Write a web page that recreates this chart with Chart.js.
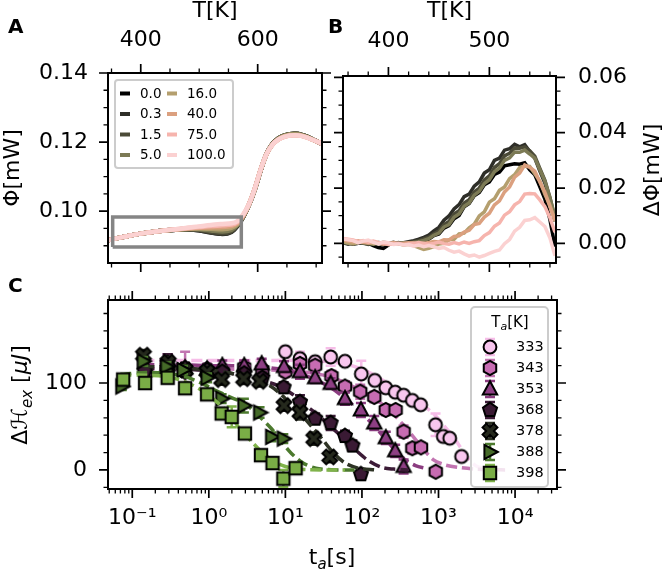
<!DOCTYPE html>
<html><head><meta charset="utf-8">
<script src="https://cdn.jsdelivr.net/npm/chart.js@4.4.1/dist/chart.umd.min.js"></script>
<style>
html,body{margin:0;padding:0;background:#fff;}
#wrap{position:relative;width:663px;height:572px;overflow:hidden;background:#fff;}
#wrap canvas{position:absolute;left:0;top:0;}
</style></head><body>
<div id="wrap">
<canvas id="cA" width="663" height="572"></canvas>
<canvas id="cB" width="663" height="572"></canvas>
<canvas id="cC" width="663" height="572"></canvas>
</div>
<script>
// ---------------- Panel A data ----------------
const runLabels = ['0.0','0.3','1.5','5.0','16.0','40.0','75.0','100.0'];
const tempA = [344,360,380,400,420,440,460,480,500,520,540,555,565,575,585,595,605,615,625,635,645,655,665,675,685,695,705,710];
const phiA_0_0  = [0.0916,0.0922,0.0929,0.0935,0.0940,0.0944,0.0946,0.0947,0.0945,0.0939,0.0935,0.0941,0.0957,0.0983,0.1018,0.1063,0.1118,0.1165,0.1194,0.1210,0.1219,0.1223,0.1224,0.1221,0.1215,0.1207,0.1199,0.1195];
const phiA_0_3  = [0.0916,0.0922,0.0929,0.0935,0.0940,0.0944,0.0946,0.0947,0.0945,0.0938,0.0934,0.0940,0.0957,0.0983,0.1018,0.1063,0.1118,0.1165,0.1194,0.1210,0.1219,0.1223,0.1224,0.1221,0.1215,0.1207,0.1199,0.1195];
const phiA_1_5  = [0.0916,0.0922,0.0929,0.0935,0.0940,0.0944,0.0946,0.0947,0.0946,0.0940,0.0936,0.0942,0.0958,0.0983,0.1018,0.1063,0.1118,0.1165,0.1194,0.1210,0.1219,0.1223,0.1224,0.1221,0.1215,0.1207,0.1199,0.1195];
const phiA_5_0  = [0.0916,0.0922,0.0929,0.0935,0.0940,0.0944,0.0947,0.0948,0.0948,0.0944,0.0941,0.0946,0.0960,0.0984,0.1018,0.1063,0.1118,0.1165,0.1194,0.1210,0.1219,0.1223,0.1224,0.1221,0.1215,0.1207,0.1199,0.1195];
const phiA_16_0 = [0.0916,0.0922,0.0929,0.0935,0.0940,0.0944,0.0947,0.0949,0.0950,0.0949,0.0948,0.0952,0.0962,0.0985,0.1019,0.1064,0.1119,0.1165,0.1193,0.1208,0.1217,0.1221,0.1222,0.1219,0.1214,0.1206,0.1199,0.1195];
const phiA_40_0 = [0.0916,0.0922,0.0929,0.0935,0.0940,0.0944,0.0947,0.0950,0.0952,0.0953,0.0954,0.0957,0.0965,0.0986,0.1020,0.1065,0.1120,0.1165,0.1192,0.1207,0.1215,0.1219,0.1220,0.1218,0.1213,0.1206,0.1199,0.1195];
const phiA_75_0 = [0.0916,0.0922,0.0929,0.0935,0.0940,0.0944,0.0948,0.0951,0.0954,0.0957,0.0959,0.0961,0.0968,0.0988,0.1020,0.1065,0.1120,0.1165,0.1192,0.1207,0.1215,0.1219,0.1220,0.1218,0.1213,0.1206,0.1199,0.1195];
const phiA_100_0= [0.0916,0.0922,0.0929,0.0935,0.0940,0.0944,0.0948,0.0952,0.0956,0.0960,0.0963,0.0965,0.0971,0.0990,0.1020,0.1065,0.1120,0.1165,0.1192,0.1207,0.1215,0.1219,0.1220,0.1218,0.1213,0.1206,0.1199,0.1195];
const zoomBoxTemp = [352, 572];
const zoomBoxPhi = [0.0896, 0.0983];
const tempTicksA = [400, 600];
const tempMinorA = [350, 450, 500, 550, 650, 700];
const phiTicks = [0.10, 0.12, 0.14];
const phiMinor = [0.09, 0.095, 0.105, 0.11, 0.115, 0.125, 0.13, 0.135];

// ---------------- Panel B data ----------------
const tempB = [355,360,365,370,375,380,385,390,395,400,405,410,415,420,425,430,435,440,445,450,455,460,465,470,475,480,485,490,495,500,505,510,515,520,525,530,535,540,545,550,555,560,565];
const dPhi_0_0 = [0.0005,0.0002,-0.0003,0.0000,0.0004,0.0001,-0.0008,-0.0015,-0.0018,-0.0006,0.0002,0.0000,-0.0004,0.0001,0.0002,0.0004,0.0008,0.0015,
 0.0028,0.0034,0.0055,0.0064,0.0089,0.0101,0.0132,0.0144,0.0172,0.0184,0.0212,0.0222,
 0.0249,0.0258,0.0280,0.0284,0.0288,0.0286,0.0291,0.0266,0.0248,0.0204,0.0160,0.0086,-0.0012];
const dPhi_0_3 = [0.0002,-0.0003,0.0001,0.0004,0.0000,-0.0002,0.0003,0.0001,-0.0005,0.0000,0.0004,-0.0001,0.0002,0.0006,0.0010,0.0015,0.0022,0.0030,
 0.0045,0.0058,0.0084,0.0099,0.0124,0.0140,0.0169,0.0178,0.0207,0.0222,0.0254,0.0266,
 0.0300,0.0308,0.0337,0.0342,0.0358,0.0349,0.0357,0.0332,0.0308,0.0261,0.0218,0.0156,0.0080];
const dPhi_1_5 = [0.0008,0.0003,0.0000,0.0005,0.0002,-0.0004,0.0000,0.0003,0.0001,-0.0003,0.0000,0.0003,-0.0002,0.0002,0.0006,0.0010,0.0016,0.0022,
 0.0035,0.0045,0.0068,0.0079,0.0106,0.0118,0.0146,0.0158,0.0186,0.0200,0.0229,0.0244,
 0.0274,0.0288,0.0316,0.0326,0.0345,0.0344,0.0349,0.0335,0.0315,0.0271,0.0228,0.0166,0.0090];
const dPhi_5_0 = [0.0004,0.0000,0.0003,0.0006,0.0001,0.0002,-0.0003,0.0000,0.0004,0.0001,-0.0002,0.0000,0.0002,-0.0001,0.0003,0.0006,0.0011,0.0017,
 0.0029,0.0037,0.0059,0.0068,0.0094,0.0106,0.0134,0.0146,0.0174,0.0188,0.0216,0.0230,
 0.0259,0.0272,0.0300,0.0309,0.0330,0.0329,0.0337,0.0323,0.0308,0.0266,0.0225,0.0164,0.0095];
const dPhi_16_0 = [0.0006,0.0002,-0.0002,0.0003,0.0006,0.0002,-0.0001,0.0002,0.0000,-0.0004,0.0001,-0.0002,-0.0006,-0.0003,-0.0008,-0.0015,-0.0022,-0.0018,
 -0.0012,-0.0002,0.0000,0.0013,0.0015,0.0034,0.0037,0.0056,0.0069,0.0099,0.0114,0.0149,
 0.0161,0.0192,0.0204,0.0234,0.0248,0.0274,0.0279,0.0278,0.0252,0.0225,0.0177,0.0138,0.0080];
const dPhi_40_0 = [0.0012,0.0008,0.0005,0.0009,0.0004,0.0001,0.0004,0.0000,-0.0003,0.0000,0.0003,-0.0001,0.0000,0.0002,0.0001,-0.0002,0.0000,0.0003,
 0.0007,0.0005,0.0013,0.0012,0.0025,0.0027,0.0041,0.0047,0.0068,0.0072,0.0095,0.0109,
 0.0139,0.0154,0.0186,0.0204,0.0239,0.0254,0.0283,0.0275,0.0261,0.0222,0.0185,0.0133,0.0082];
const dPhi_75_0 = [0.0018,0.0015,0.0012,0.0006,0.0010,0.0004,0.0008,0.0003,0.0000,-0.0004,-0.0002,0.0000,-0.0005,-0.0002,0.0000,0.0003,0.0000,-0.0003,
 0.0000,0.0005,-0.0001,-0.0003,0.0003,-0.0002,0.0005,0.0000,0.0006,0.0010,0.0028,0.0039,
 0.0062,0.0074,0.0102,0.0114,0.0139,0.0151,0.0178,0.0180,0.0179,0.0157,0.0133,0.0092,0.0040];
const dPhi_100_0 = [0.0016,0.0013,0.0010,0.0002,0.0008,0.0012,0.0004,-0.0002,0.0005,0.0002,-0.0004,-0.0002,-0.0006,-0.0004,-0.0010,-0.0006,-0.0012,-0.0008,
 -0.0012,-0.0018,-0.0015,-0.0025,-0.0032,-0.0028,-0.0038,-0.0046,-0.0042,-0.0050,-0.0044,-0.0036,
 -0.0029,-0.0024,-0.0001,0.0014,0.0044,0.0058,0.0083,0.0085,0.0093,0.0077,0.0061,0.0019,-0.0045];
const tempTicksB = [400, 500];
const tempMinorB = [360, 380, 420, 440, 460, 480, 520, 540, 560];
const dPhiTicks = [0.00, 0.02, 0.04, 0.06];
const dPhiMinor = [-0.005, 0.005, 0.01, 0.015, 0.025, 0.03, 0.035, 0.045, 0.05, 0.055];

// ---------------- Panel C data ----------------
const annealTemps = ['333','343','353','368','378','388','398'];
const t_333 = [10,15.5,24.5,39,60,98,147,205,272,350,455,585,915,1155,1400,2000];
const dH_333 = [136,128,124.5,130,125,110.5,103,94.5,89.5,86,80,75,52,38.5,36.5,15.5];
const err_333 = [6,8,6,10,5,15,6,5,5,5,5,5,13,6,5,5];
const t_343 = [0.15,0.29,0.49,0.95,1.5,2.9,5,10,15.5,24.5,40,60,95,145,205,275,350,455,590,920];
const dH_343 = [112,116,113,116,115,118,115,113,122,120,108,96,90,84,69,69,44,25,26,-2];
const err_343 = [6,6,23,6,6,6,6,6,6,6,6,6,8,6,6,5,7,6,5,4];
const t_353 = [0.15,0.29,0.49,0.95,1.5,2.9,4.9,9.6,15.5,24.5,39,60,97,145,205,272,350];
const dH_353 = [118,121,117,116,120,120,122,119,113,106,99.5,82,69,54,37,22,4];
const err_353 = [6,12,6,6,6,6,6,6,8,6,6,7,8,8,7,7,8];
const t_368 = [0.145,0.29,0.49,0.95,1.5,2.9,5,9.5,15.5,24.5,39,60,75,97];
const dH_368 = [114,123,117,115,113,111,106,95,78,59,54,39,28,-5];
const err_368 = [6,10,6,6,6,6,6,6,8,6,8,6,6,6];
const t_378 = [0.14,0.295,0.49,0.95,1.47,2.85,4.6,9.6,15.5,23.5,38];
const dH_378 = [132,124,115,113,104,105,102,74,66,36,15];
const err_378 = [6,6,6,6,6,6,6,6,8,7,6];
const t_388 = [0.073,0.139,0.28,0.46,0.95,1.47,2.87,4.6,6.6,9.4];
const dH_388 = [96,125,119,115,106,82,74,66,38,36];
const err_388 = [4,5,5,5,5,5,8,6,5,5];
const t_398 = [0.076,0.147,0.29,0.49,0.95,1.47,1.99,2.96,4.8,6.8,9.4,13.6];
const dH_398 = [104,100,106,94,87,65,61,42,17,8,-10,2];
const err_398 = [4,5,4,5,5,6,12,5,5,5,10,6];
// fitted curves
const fitT_333 = [0.14,0.5,2,6,15,30,60,100,160,250,400,600,900,1200,1600,2000,2500,3200,4500];
const fitH_333 = [126,126,126,126,126,125,122,116,107,96,86,76,63,50,37,24,12,4,1];
const fitT_343 = [0.14,0.5,2,6,12,20,35,55,80,120,170,240,330,450,620,850,1200,1800,3000,5000,8500];
const fitH_343 = [116,116,116,115,114,112,108,102,95,87,78,67,54,40,25,12,6,3,1,0.3,0];
const fitT_353 = [0.14,0.3,0.5,1,2,4,7,10,15,22,32,45,65,90,130,180,250,350,500,700];
const fitH_353 = [121,121,121,120,120,119,117,115,111,106,99,91,80,69,55,41,26,13,5,1.5];
const fitT_368 = [0.14,0.3,0.5,1,2,3,5,8,12,18,26,40,60,85,120,180,260,400];
const fitH_368 = [117,117,116,114,111,108,103,97,88,75,64,49,35,22,11,3,1,0];
const fitT_378 = [0.14,0.3,0.5,1,2,3,4.5,6.5,9,12,16,22,30,42,60,90,150];
const fitH_378 = [119,118,117,115,111,107,102,96,86,75,64,50,36,20,8,2,0];
const fitT_388 = [0.07,0.15,0.3,0.5,0.8,1.2,2,3,4.5,6.5,9,12,17,25,40,80];
const fitH_388 = [110,112,111,107,100,92,83,76,62,48,32,19,8,2,0.3,0];
const fitT_398 = [0.07,0.15,0.3,0.5,0.8,1.2,1.8,2.5,3.5,5,7,10,14,20,35,60];
const fitH_398 = [109,109,107,101,92,80,66,48,34,20,10,4,1.2,0.3,0,0];
const timeTicks = [0.1, 1, 10, 100, 1000, 10000];
const timeTickLabels = ['10\u207B\u00B9','10\u2070','10\u00B9','10\u00B2','10\u00B3','10\u2074'];
const dHTicks = [0, 100];
const dHMinor = [-20, 20, 40, 60, 80, 120, 140, 160, 180];

// ---------------- styles ----------------
const FONT = "'DejaVu Sans', sans-serif";
Chart.defaults.font.family = FONT;
Chart.defaults.color = '#000';
const runColors = ['#000000','#2e2e28','#4b4a37','#7c7a55','#b49f6e','#dba07f','#f6b4ad','#fbd1d1'];
const markerShapes = ['circle','hexagon','triangle','pentagon','xfilled','tri_right','square'];
const markerFill = ['#f8c6ee','#c76cb2','#8e3f84','#3a1a34','#25291d','#456a28','#7aad46'];
const lineColC = ['#f6bde8','#c274b1','#8b3c80','#3c1c37','#2e3325','#4c7a2e','#80b34b'];

function makeMarker(shape, fill) {
  const c = document.createElement('canvas'); c.width = 20; c.height = 20;
  const g = c.getContext('2d'); g.translate(10, 10); g.beginPath();
  const poly = pts => { pts.forEach((p, i) => i ? g.lineTo(p[0], p[1]) : g.moveTo(p[0], p[1])); g.closePath(); };
  const reg = (n, r, rot) => { const pts = []; for (let k = 0; k < n; k++) { const a = rot + k * 2 * Math.PI / n; pts.push([r * Math.cos(a), r * Math.sin(a)]); } poly(pts); };
  switch (shape) {
    case 'circle': g.arc(0, 0, 6.4, 0, 2 * Math.PI); break;
    case 'hexagon': reg(6, 7.2, -Math.PI / 2); break;
    case 'triangle': poly([[0, -7.8], [-7.2, 5.6], [7.2, 5.6]]); break;
    case 'pentagon': reg(5, 7.4, -Math.PI / 2); break;
    case 'xfilled': { const w = 2.7, L = 7.8; const pts = [[-w,-L],[w,-L],[w,-w],[L,-w],[L,w],[w,w],[w,L],[-w,L],[-w,w],[-L,w],[-L,-w],[-w,-w]]; const cr = Math.SQRT1_2; poly(pts.map(([x, y]) => [(x - y) * cr, (x + y) * cr])); break; }
    case 'tri_right': poly([[7.8, 0], [-5.6, -7.2], [-5.6, 7.2]]); break;
    case 'square': poly([[-6.2, -6.2], [6.2, -6.2], [6.2, 6.2], [-6.2, 6.2]]); break;
  }
  g.fillStyle = fill; g.fill(); g.lineWidth = 2; g.strokeStyle = '#000'; g.lineJoin = 'miter'; g.stroke();
  return c;
}

function richText(ctx, parts, x, y, rot, align) {
  ctx.save(); ctx.translate(x, y); ctx.rotate(rot || 0);
  const fontOf = p => (p.b ? 'bold ' : '') + (p.i ? 'italic ' : '') + p.s + 'px ' + FONT;
  let total = 0; const ws = [];
  parts.forEach(p => { ctx.font = fontOf(p); const w = ctx.measureText(p.t).width; ws.push(w); total += w; });
  let cx = align === 'left' ? 0 : -total / 2;
  ctx.textBaseline = 'alphabetic'; ctx.textAlign = 'left'; ctx.fillStyle = '#000';
  parts.forEach((p, k) => { ctx.font = fontOf(p); ctx.fillText(p.t, cx, p.dy || 0); cx += ws[k]; });
  ctx.restore();
}

// spines + matplotlib-like ticks on all sides
const mplAxes = {
  id: 'mplAxes',
  afterDatasetsDraw(chart, args, o) {
    const { ctx, chartArea: a } = chart;
    ctx.save(); ctx.strokeStyle = '#000'; ctx.lineCap = 'butt';
    for (const ax of (o.axes || [])) {
      const s = chart.scales[ax.scale];
      for (const [vals, len, w] of [[ax.major, 9, 1.7], [ax.minor || [], 4.5, 1.3]]) {
        ctx.lineWidth = w; ctx.beginPath();
        for (const v of vals) {
          const p = s.getPixelForValue(v);
          if (s.isHorizontal()) {
            if (p < a.left - 1 || p > a.right + 1) continue;
            ctx.moveTo(p, a.top); ctx.lineTo(p, a.top - len);
            ctx.moveTo(p, a.bottom); ctx.lineTo(p, a.bottom + len);
          } else {
            if (p < a.top - 1 || p > a.bottom + 1) continue;
            ctx.moveTo(a.left, p); ctx.lineTo(a.left - len, p);
            ctx.moveTo(a.right, p); ctx.lineTo(a.right + len, p);
          }
        }
        ctx.stroke();
      }
    }
    ctx.lineWidth = 2;
    ctx.strokeRect(a.left, a.top, a.right - a.left, a.bottom - a.top);
    ctx.restore();
  }
};

const extraText = {
  id: 'extraText',
  afterDraw(chart, args, o) {
    const ctx = chart.ctx;
    for (const item of (o.items || [])) richText(ctx, item.parts, item.x, item.y, item.rot, item.align);
  }
};

function fixedSize(w, h) {
  return s => { if (w != null) s.width = w; if (h != null) s.height = h; };
}

// ---------------- Panel A ----------------
const phiSeriesA = [phiA_0_0, phiA_0_3, phiA_1_5, phiA_5_0, phiA_16_0, phiA_40_0, phiA_75_0, phiA_100_0];
const dsA = phiSeriesA.map((arr, i) => ({
  label: runLabels[i], data: tempA.map((T, k) => ({ x: T, y: arr[k] })),
  borderColor: runColors[i], borderWidth: 4.5, pointRadius: 0, showLine: true, order: 20 - i, tension: 0.3
}));
dsA.push({
  label: 'zoom', data: [[0,0],[1,0],[1,1],[0,1],[0,0]].map(([i, j]) => ({ x: zoomBoxTemp[i], y: zoomBoxPhi[j] })),
  borderColor: '#858585', borderWidth: 3.5, pointRadius: 0, showLine: true, order: 1, tension: 0
});
const legendA = {
  id: 'legendA',
  afterDraw(chart) {
    const ctx = chart.ctx, a = chart.chartArea;
    const x0 = a.left + 7, y0 = a.top + 7;
    ctx.save();
    ctx.beginPath(); ctx.roundRect(x0, y0, 118, 88, 3);
    ctx.fillStyle = 'rgba(255,255,255,0.8)'; ctx.fill();
    ctx.strokeStyle = '#cccccc'; ctx.lineWidth = 2; ctx.stroke();
    ctx.font = '13.5px ' + FONT; ctx.textBaseline = 'middle'; ctx.textAlign = 'left';
    for (let i = 0; i < 8; i++) {
      const ds = chart.data.datasets[i];
      const col = Math.floor(i / 4), row = i % 4;
      const hx = x0 + 5 + col * 47, hy = y0 + 13.5 + row * 20.5;
      ctx.strokeStyle = ds.borderColor; ctx.lineWidth = 4;
      ctx.beginPath(); ctx.moveTo(hx, hy); ctx.lineTo(hx + 10, hy); ctx.stroke();
      ctx.fillStyle = '#000'; ctx.fillText(ds.label, hx + 20, hy + 0.5);
    }
    ctx.restore();
  }
};
new Chart(document.getElementById('cA'), {
  type: 'scatter',
  data: { datasets: dsA },
  options: {
    responsive: false, animation: false, events: [],
    layout: { padding: { left: 0, top: 0, right: 341, bottom: 309 } },
    scales: {
      x: { type: 'linear', position: 'top', min: 344, max: 710,
        afterBuildTicks: s => { s.ticks = tempTicksA.map(v => ({ value: v })); },
        afterFit: fixedSize(null, 73),
        grid: { display: false, drawTicks: false }, border: { display: false },
        ticks: { font: { size: 22 }, padding: 20, autoSkip: false, maxRotation: 0, callback: v => String(v) },
        title: { display: true, text: 'T[K]', font: { size: 22, lineHeight: 1 }, padding: { top: 0, bottom: 0 } } },
      y: { type: 'linear', position: 'left', min: 0.085, max: 0.14,
        afterBuildTicks: s => { s.ticks = phiTicks.map(v => ({ value: v })); },
        afterFit: fixedSize(108, null),
        grid: { display: false, drawTicks: false }, border: { display: false },
        ticks: { font: { size: 22 }, padding: 20, autoSkip: false, callback: v => v.toFixed(2) },
        title: { display: true, text: 'Φ[mW]', font: { size: 22, lineHeight: 1 }, padding: { top: 2, bottom: 0 } } }
    },
    plugins: {
      legend: { display: false }, tooltip: { enabled: false },
      mplAxes: { axes: [{ scale: 'x', major: tempTicksA, minor: tempMinorA }, { scale: 'y', major: phiTicks, minor: phiMinor }] },
      extraText: { items: [{ parts: [{ t: 'A', s: 20, b: true }], x: 8, y: 33, align: 'left' }] }
    }
  },
  plugins: [mplAxes, legendA, extraText]
});

// ---------------- Panel B ----------------
const dPhiSeries = [dPhi_0_0, dPhi_0_3, dPhi_1_5, dPhi_5_0, dPhi_16_0, dPhi_40_0, dPhi_75_0, dPhi_100_0];
const dsB = dPhiSeries.map((arr, i) => ({
  label: runLabels[i], data: tempB.map((T, k) => ({ x: T, y: arr[k] })),
  borderColor: runColors[i], borderWidth: 3.5, pointRadius: 0, showLine: true, order: 20 - i, tension: 0
}));
new Chart(document.getElementById('cB'), {
  type: 'scatter',
  data: { datasets: dsB },
  options: {
    responsive: false, animation: false, events: [],
    layout: { padding: { left: 343, top: 0, right: 0, bottom: 309 } },
    scales: {
      x: { type: 'linear', position: 'top', min: 355, max: 566,
        afterBuildTicks: s => { s.ticks = tempTicksB.map(v => ({ value: v })); },
        afterFit: fixedSize(null, 76),
        grid: { display: false, drawTicks: false }, border: { display: false },
        ticks: { font: { size: 22 }, padding: 22, autoSkip: false, maxRotation: 0, callback: v => String(v) },
        title: { display: true, text: 'T[K]', font: { size: 22, lineHeight: 1 }, padding: { top: 0, bottom: 0 } } },
      y: { type: 'linear', position: 'right', min: -0.0071, max: 0.0605,
        afterBuildTicks: s => { s.ticks = dPhiTicks.map(v => ({ value: v })); },
        afterFit: fixedSize(107, null),
        grid: { display: false, drawTicks: false }, border: { display: false },
        ticks: { font: { size: 22 }, padding: 22, autoSkip: false, callback: v => v.toFixed(2) } }
    },
    plugins: {
      legend: { display: false }, tooltip: { enabled: false },
      mplAxes: { axes: [{ scale: 'x', major: tempTicksB, minor: tempMinorB }, { scale: 'y', major: dPhiTicks, minor: dPhiMinor }] },
      extraText: { items: [
        { parts: [{ t: 'B', s: 20, b: true }], x: 328, y: 33, align: 'left' },
        { parts: [{ t: 'ΔΦ[mW]', s: 22 }], x: 659, y: 170, rot: -Math.PI / 2 }
      ] }
    }
  },
  plugins: [mplAxes, extraText]
});

// ---------------- Panel C ----------------
const seriesC = [
  [t_333, dH_333, err_333, fitT_333, fitH_333],
  [t_343, dH_343, err_343, fitT_343, fitH_343],
  [t_353, dH_353, err_353, fitT_353, fitH_353],
  [t_368, dH_368, err_368, fitT_368, fitH_368],
  [t_378, dH_378, err_378, fitT_378, fitH_378],
  [t_388, dH_388, err_388, fitT_388, fitH_388],
  [t_398, dH_398, err_398, fitT_398, fitH_398]
];
const dsC = [];
seriesC.forEach(([ts, hs, es, fts, fhs], i) => {
  dsC.push({ label: 'fit ' + annealTemps[i], data: fts.map((t, k) => ({ x: t, y: fhs[k] })),
    showLine: true, pointRadius: 0, borderColor: lineColC[i], borderWidth: 3.5, borderDash: [11, 5],
    tension: 0.3, order: 100 - dsC.length });
  dsC.push({ label: annealTemps[i], data: ts.map((t, k) => ({ x: t, y: hs[k] })), errs: es,
    errColor: lineColC[i], showLine: false, pointRadius: 7,
    pointStyle: makeMarker(markerShapes[i], markerFill[i]), order: 100 - dsC.length });
});
const errorBars = {
  id: 'errorBars',
  beforeDatasetDraw(chart, args) {
    const ds = chart.data.datasets[args.index];
    if (!ds.errs) return;
    const { ctx, chartArea: a, scales: { x, y } } = chart;
    ctx.save();
    ctx.beginPath(); ctx.rect(a.left, a.top, a.right - a.left, a.bottom - a.top); ctx.clip();
    ctx.strokeStyle = ds.errColor; ctx.lineWidth = 2.5; ctx.beginPath();
    ds.data.forEach((p, k) => {
      const px = x.getPixelForValue(p.x);
      const y1 = y.getPixelForValue(p.y - ds.errs[k]), y2 = y.getPixelForValue(p.y + ds.errs[k]);
      ctx.moveTo(px, y1); ctx.lineTo(px, y2);
      ctx.moveTo(px - 5, y1); ctx.lineTo(px + 5, y1);
      ctx.moveTo(px - 5, y2); ctx.lineTo(px + 5, y2);
    });
    ctx.stroke(); ctx.restore();
  }
};
const legendC = {
  id: 'legendC',
  afterDraw(chart) {
    const ctx = chart.ctx, a = chart.chartArea;
    const bx = a.right - 86, by = a.top + 7, bw = 77, bh = 180;
    ctx.save();
    ctx.beginPath(); ctx.roundRect(bx, by, bw, bh, 4);
    ctx.fillStyle = 'rgba(255,255,255,0.8)'; ctx.fill();
    ctx.strokeStyle = '#cccccc'; ctx.lineWidth = 2; ctx.stroke();
    richText(ctx, [{ t: 'T', s: 15 }, { t: 'a', s: 11, i: true, dy: 3 }, { t: '[K]', s: 15 }], bx + 39, by + 20, 0, 'center');
    const markers = chart.data.datasets.filter(d => d.errs);
    markers.forEach((d, i) => {
      const mx = bx + 19, my = by + 40 + i * 21;
      ctx.strokeStyle = d.errColor; ctx.lineWidth = 2.5; ctx.beginPath();
      ctx.moveTo(mx, my - 8); ctx.lineTo(mx, my + 8);
      ctx.moveTo(mx - 5, my - 8); ctx.lineTo(mx + 5, my - 8);
      ctx.moveTo(mx - 5, my + 8); ctx.lineTo(mx + 5, my + 8);
      ctx.stroke();
      const img = d.pointStyle; ctx.drawImage(img, mx - img.width / 2, my - img.height / 2);
      ctx.font = '14.5px ' + FONT; ctx.fillStyle = '#000'; ctx.textAlign = 'left'; ctx.textBaseline = 'middle';
      ctx.fillText(d.label, bx + 45, my + 0.5);
    });
    ctx.restore();
  }
};
const timeMinor = [];
[-2, -1, 0, 1, 2, 3, 4].forEach(d => { for (let k = 2; k <= 9; k++) timeMinor.push(k * Math.pow(10, d)); });
new Chart(document.getElementById('cC'), {
  type: 'scatter',
  data: { datasets: dsC },
  options: {
    responsive: false, animation: false, events: [],
    layout: { padding: { left: 0, top: 300, right: 106, bottom: 0 } },
    scales: {
      x: { type: 'logarithmic', position: 'bottom', min: 0.0482, max: 35300,
        afterBuildTicks: s => { s.ticks = timeTicks.map(v => ({ value: v })); },
        afterFit: fixedSize(null, 83),
        grid: { display: false, drawTicks: false }, border: { display: false },
        ticks: { font: { size: 22 }, padding: 16, autoSkip: false, maxRotation: 0,
          callback: (v, i) => timeTickLabels[timeTicks.indexOf(v)] ?? timeTickLabels[i] } },
      y: { type: 'linear', position: 'left', min: -21.9, max: 195.5,
        afterBuildTicks: s => { s.ticks = dHTicks.map(v => ({ value: v })); },
        afterFit: fixedSize(108, null),
        grid: { display: false, drawTicks: false }, border: { display: false },
        ticks: { font: { size: 22 }, padding: 21, autoSkip: false, callback: v => String(v) } }
    },
    plugins: {
      legend: { display: false }, tooltip: { enabled: false },
      mplAxes: { axes: [{ scale: 'x', major: timeTicks, minor: timeMinor }, { scale: 'y', major: dHTicks, minor: dHMinor }] },
      extraText: { items: [
        { parts: [{ t: 'C', s: 20, b: true }], x: 8, y: 292, align: 'left' },
        { parts: [{ t: 't', s: 22 }, { t: 'a', s: 15, i: true, dy: 5 }, { t: '[s]', s: 22 }], x: 332, y: 564 },
        { parts: [{ t: 'Δℋ', s: 22 }, { t: 'ex', s: 15, i: true, dy: 5 }, { t: ' [', s: 22 }, { t: 'μJ', s: 22, i: true }, { t: ']', s: 22 }], x: 27, y: 395, rot: -Math.PI / 2 }
      ] }
    }
  },
  plugins: [errorBars, mplAxes, legendC, extraText]
});
</script>
</body></html>
